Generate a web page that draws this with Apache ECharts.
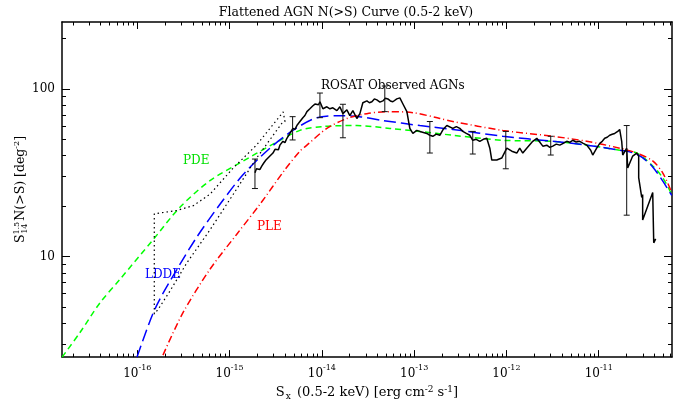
<!DOCTYPE html>
<html>
<head>
<meta charset="utf-8">
<script src="https://cdn.jsdelivr.net/npm/echarts@6/dist/echarts.min.js"></script>
<style>html,body{margin:0;background:#fff}#chart{width:692px;height:406px}</style>
</head>
<body>
<div id="chart"></div>
<script>
// all values are log10: S_x [erg cm^-2 s^-1] and S^1.5 N(>S) [deg^-2]
const pdeLogS = [-16.815, -16.621, -16.404, -16.187, -15.830, -15.538, -15.213, -14.888, -14.530, -14.238, -13.989, -13.621, -13.264, -12.939, -12.581, -12.040, -11.498, -11.130, -10.773, -10.589, -10.415, -10.307, -10.209];
const pdeLogN = [0.400, 0.547, 0.724, 0.865, 1.100, 1.294, 1.453, 1.559, 1.671, 1.753, 1.776, 1.782, 1.765, 1.747, 1.724, 1.694, 1.688, 1.665, 1.635, 1.618, 1.541, 1.471, 1.371];

const lddeLogS = [-16.003, -15.808, -15.570, -15.353, -15.104, -14.855, -14.563, -14.314, -14.054, -13.805, -13.589, -13.339, -12.938, -12.581, -12.040, -11.498, -11.130, -10.773, -10.589, -10.415, -10.209];
const lddeLogN = [0.400, 0.688, 0.924, 1.118, 1.312, 1.488, 1.647, 1.753, 1.829, 1.841, 1.835, 1.812, 1.782, 1.759, 1.718, 1.688, 1.665, 1.635, 1.612, 1.535, 1.365];

const pleLogS = [-15.722, -15.505, -15.213, -14.920, -14.671, -14.401, -14.238, -14.162, -13.946, -13.729, -13.512, -13.296, -13.014, -12.721, -12.581, -12.040, -11.498, -11.130, -10.773, -10.589, -10.415, -10.307, -10.209];
const pleLogN = [0.412, 0.665, 0.924, 1.135, 1.312, 1.518, 1.629, 1.665, 1.765, 1.824, 1.853, 1.865, 1.859, 1.824, 1.806, 1.753, 1.718, 1.688, 1.647, 1.618, 1.571, 1.500, 1.382];

// dotted envelope round the faint end
const boundLogS = [-15.816, -15.816, -15.573, -15.393, -15.213, -14.960, -14.707, -14.419, -14.400, -14.436, -14.707, -14.960, -15.213, -15.465, -15.646, -15.773, -15.816];
const boundLogN = [0.657, 1.255, 1.275, 1.304, 1.372, 1.529, 1.666, 1.863, 1.806, 1.794, 1.588, 1.372, 1.159, 0.961, 0.794, 0.686, 0.657];

// ROSAT observed curve
const obsLogS = [-14.725, -14.709, -14.693, -14.671, -14.650, -14.628, -14.606, -14.585, -14.563, -14.546, -14.530, -14.508, -14.487, -14.471, -14.455, -14.438, -14.422, -14.400, -14.379, -14.362,
  -14.346, -14.330, -14.314, -14.292, -14.271, -14.254, -14.238, -14.222, -14.206, -14.184, -14.162, -14.146, -14.130, -14.113, -14.097, -14.075, -14.054, -14.037, -14.021,
  -13.989, -13.946, -13.913, -13.881, -13.837, -13.805, -13.772, -13.729, -13.697, -13.664, -13.621, -13.588, -13.556, -13.512, -13.485, -13.458, -13.431, -13.404, -13.371, -13.339, -13.312, -13.285, -13.258, -13.231, -13.210, -13.188,
  -13.155, -13.123, -13.079, -13.047, -13.014, -12.971, -12.938, -12.900, -12.863, -12.830, -12.798, -12.760, -12.722, -12.684, -12.646, -12.581, -12.543, -12.505, -12.473, -12.435, -12.397, -12.365, -12.327, -12.289, -12.251, -12.213, -12.180, -12.159,
  -12.105, -12.051, -11.996, -11.942, -11.888, -11.856, -11.823, -11.780, -11.715, -11.671, -11.606, -11.563, -11.530, -11.498, -11.460, -11.422, -11.385, -11.347, -11.315, -11.282, -11.244, -11.206, -11.168, -11.130, -11.087, -11.065,
  -11.022, -10.989, -10.962, -10.935, -10.908, -10.881, -10.854, -10.827, -10.794, -10.773, -10.751, -10.740, -10.697, -10.686, -10.632, -10.588, -10.567, -10.567, -10.534, -10.524, -10.524, -10.415, -10.404, -10.383];
const obsLogN = [1.500, 1.524, 1.529, 1.520, 1.541, 1.560, 1.576, 1.568, 1.600, 1.592, 1.618, 1.640, 1.647, 1.638, 1.665, 1.676, 1.688, 1.680, 1.706, 1.700,
  1.735, 1.729, 1.765, 1.759, 1.782, 1.776, 1.806, 1.800, 1.829, 1.842, 1.865, 1.859, 1.882, 1.876, 1.900, 1.910, 1.918, 1.906, 1.924,
  1.882, 1.894, 1.882, 1.888, 1.871, 1.894, 1.853, 1.876, 1.841, 1.871, 1.824, 1.853, 1.918, 1.929, 1.918, 1.924, 1.941, 1.935, 1.922, 1.929, 1.945, 1.941, 1.929, 1.924, 1.935, 1.941,
  1.947, 1.912, 1.865, 1.765, 1.735, 1.753, 1.747, 1.741, 1.735, 1.724, 1.718, 1.731, 1.724, 1.760, 1.782, 1.765, 1.776, 1.765, 1.747, 1.735, 1.724, 1.694, 1.700, 1.688, 1.700, 1.706, 1.647, 1.576,
  1.576, 1.588, 1.647, 1.629, 1.618, 1.647, 1.618, 1.647, 1.688, 1.706, 1.659, 1.665, 1.652, 1.659, 1.671, 1.665, 1.676, 1.688, 1.682, 1.694, 1.684, 1.688, 1.676, 1.665, 1.635, 1.606,
  1.647, 1.676, 1.688, 1.706, 1.712, 1.724, 1.730, 1.735, 1.747, 1.759, 1.688, 1.606, 1.647, 1.529, 1.600, 1.618, 1.600, 1.471, 1.353, 1.371, 1.218, 1.382, 1.082, 1.106];

// error bars
const errLogS = [-14.725, -14.317, -14.021, -13.772, -13.318, -12.830, -12.365, -12.007, -11.520, -10.697];
const errLogLo = [1.406, 1.696, 1.829, 1.709, 1.865, 1.618, 1.612, 1.524, 1.606, 1.247];
const errLogHi = [1.582, 1.835, 1.976, 1.909, 2.018, 1.806, 1.747, 1.747, 1.718, 1.782];

// axes
const X_MIN = -16.816, X_MAX = -10.206, Y_MIN = 0.4, Y_MAX = 2.4;
const xDecades = [-17, -16, -15, -14, -13, -12, -11];
const yDecades = [0, 1, 2];
const yLabels = { 1: '10', 2: '100' };
const FONT = 'DejaVu Serif';

const zip = (a, b) => a.map((v, i) => [v, b[i]]);
const minors = decs => {
	let out = [];
	decs.forEach(d => { for (let k = 2; k <= 9; k++) out.push(d + Math.log10(k)); });
	return out;
};
const xMinor = minors(xDecades), yMinor = minors(yDecades);

const AXIS_LINE = { show: true, lineStyle: { color: '#000', width: 1.5 } };
const NO_LINE = { show: false };

function xAx(position, ticks, len, withLabels) {
	return {
		type: 'value', position, min: X_MIN, max: X_MAX,
		axisLine: withLabels !== null ? AXIS_LINE : NO_LINE,
		splitLine: { show: false },
		axisTick: { inside: true, length: len, customValues: ticks, lineStyle: { color: '#000', width: 1 } },
		axisLabel: withLabels ? {
			customValues: xDecades.slice(1), margin: 7, color: '#000', fontFamily: FONT,
			formatter: v => '{b|10}{sup|' + Math.round(v) + '}',
			rich: { b: { fontSize: 12, fontFamily: FONT, lineHeight: 16, verticalAlign: 'bottom' },
				sup: { fontSize: 8, fontFamily: FONT, lineHeight: 16, verticalAlign: 'top', padding: [0, 0, 6, 0] } }
		} : { show: false }
	};
}

function yAx(position, ticks, len, withLabels) {
	return {
		type: 'value', position, min: Y_MIN, max: Y_MAX,
		axisLine: withLabels !== null ? AXIS_LINE : NO_LINE,
		splitLine: { show: false },
		axisTick: { inside: true, length: len, customValues: ticks, lineStyle: { color: '#000', width: 1 } },
		axisLabel: withLabels ? {
			customValues: [1, 2], margin: 7, color: '#000', fontFamily: FONT, fontSize: 12,
			formatter: v => yLabels[Math.round(v)]
		} : { show: false }
	};
}

const xMajor = xDecades, yMajor = yDecades;
let xAxes = [xAx('bottom', xMajor, 7, true), xAx('bottom', xMinor, 3.5, null), xAx('top', xMajor, 7, false), xAx('top', xMinor, 3.5, null)];
let yAxes = [yAx('left', yMajor, 8, true), yAx('left', yMinor, 4, null), yAx('right', yMajor, 8, false), yAx('right', yMinor, 4, null)];

xAxes[0].name = 'S{sub|x} (0.5-2 keV) [erg cm{sup|-2} s{sup|-1}]';
xAxes[0].nameLocation = 'middle';
xAxes[0].nameGap = 23;
xAxes[0].nameTextStyle = {
	color: '#000', fontFamily: FONT, fontSize: 13, lineHeight: 16, verticalAlign: 'bottom',
	rich: { sub: { fontSize: 9, fontFamily: FONT, lineHeight: 16, verticalAlign: 'bottom', padding: [0, 2, 0, 1] },
		sup: { fontSize: 9, fontFamily: FONT, lineHeight: 16, verticalAlign: 'top', padding: [0, 0, 6, 0] } }
};
yAxes[0].name = 'S{sup|1.5}{sub|14}N(>S) [deg{sup|-2}]';
yAxes[0].nameLocation = 'middle';
yAxes[0].nameGap = 33;
yAxes[0].nameMoveOverlap = false;
yAxes[0].nameTextStyle = {
	color: '#000', fontFamily: FONT, fontSize: 12.5, lineHeight: 16, verticalAlign: 'bottom',
	rich: { sub: { fontSize: 8, fontFamily: FONT, lineHeight: 16, verticalAlign: 'bottom', padding: [0, 3, 0, -12] },
		sup: { fontSize: 8, fontFamily: FONT, lineHeight: 16, verticalAlign: 'top', padding: [0, 0, 6, 0] } }
};

function curve(name, s, n, color, dash, width, smooth) {
	return {
		name, type: 'line', data: zip(s, n), symbol: 'none', smooth: smooth || false,
		lineStyle: { color, width, type: dash }, silent: true, z: 3
	};
}

const chart = echarts.init(document.getElementById('chart'));
chart.setOption({
	animation: false,
	backgroundColor: '#fff',
	title: {
		text: 'Flattened AGN N(>S) Curve (0.5-2 keV)', left: 'center', top: 1,
		textStyle: { fontFamily: FONT, fontSize: 12.5, fontWeight: 'normal', color: '#000' }
	},
	grid: { left: 62, right: 20, top: 22, bottom: 44 },
	xAxis: xAxes,
	yAxis: yAxes,
	series: [
		curve('PDE', pdeLogS, pdeLogN, '#00ff00', [6, 4], 1.5, 0.3),
		curve('LDDE', lddeLogS, lddeLogN, '#0000ff', [12, 5], 1.5, 0.3),
		curve('PLE', pleLogS, pleLogN, '#ff0000', [7, 3, 1, 3], 1.5, 0.3),
		curve('bounds', boundLogS, boundLogN, '#000', [1.5, 3], 1.2),
		curve('ROSAT', obsLogS, obsLogN, '#000', 'solid', 1.5),
		{
			name: 'errors', type: 'custom', silent: true, z: 4,
			data: errLogS.map((s, i) => [s, errLogLo[i], errLogHi[i]]),
			encode: { x: 0, y: [1, 2] },
			renderItem: (params, api) => {
				const top = api.coord([api.value(0), api.value(2)]),
					bot = api.coord([api.value(0), api.value(1)]),
					w = 3, st = { stroke: '#111', lineWidth: 1 };
				return {
					type: 'group', children: [
						{ type: 'line', shape: { x1: top[0], y1: top[1], x2: bot[0], y2: bot[1] }, style: st },
						{ type: 'line', shape: { x1: top[0] - w, y1: top[1], x2: top[0] + w, y2: top[1] }, style: st },
						{ type: 'line', shape: { x1: bot[0] - w, y1: bot[1], x2: bot[0] + w, y2: bot[1] }, style: st }
					]
				};
			}
		}
	],
	graphic: [
		{ type: 'text', x: 321, y: 80, style: { text: 'ROSAT Observed AGNs', fontFamily: FONT, fontSize: 12, fill: '#000' } },
		{ type: 'text', x: 183, y: 155, style: { text: 'PDE', fontFamily: FONT, fontSize: 12, fill: '#00e000' } },
		{ type: 'text', x: 145, y: 269, style: { text: 'LDDE', fontFamily: FONT, fontSize: 12, fill: '#0000ff' } },
		{ type: 'text', x: 257, y: 221, style: { text: 'PLE', fontFamily: FONT, fontSize: 12, fill: '#ff0000' } }
	]
});
</script>
</body>
</html>
